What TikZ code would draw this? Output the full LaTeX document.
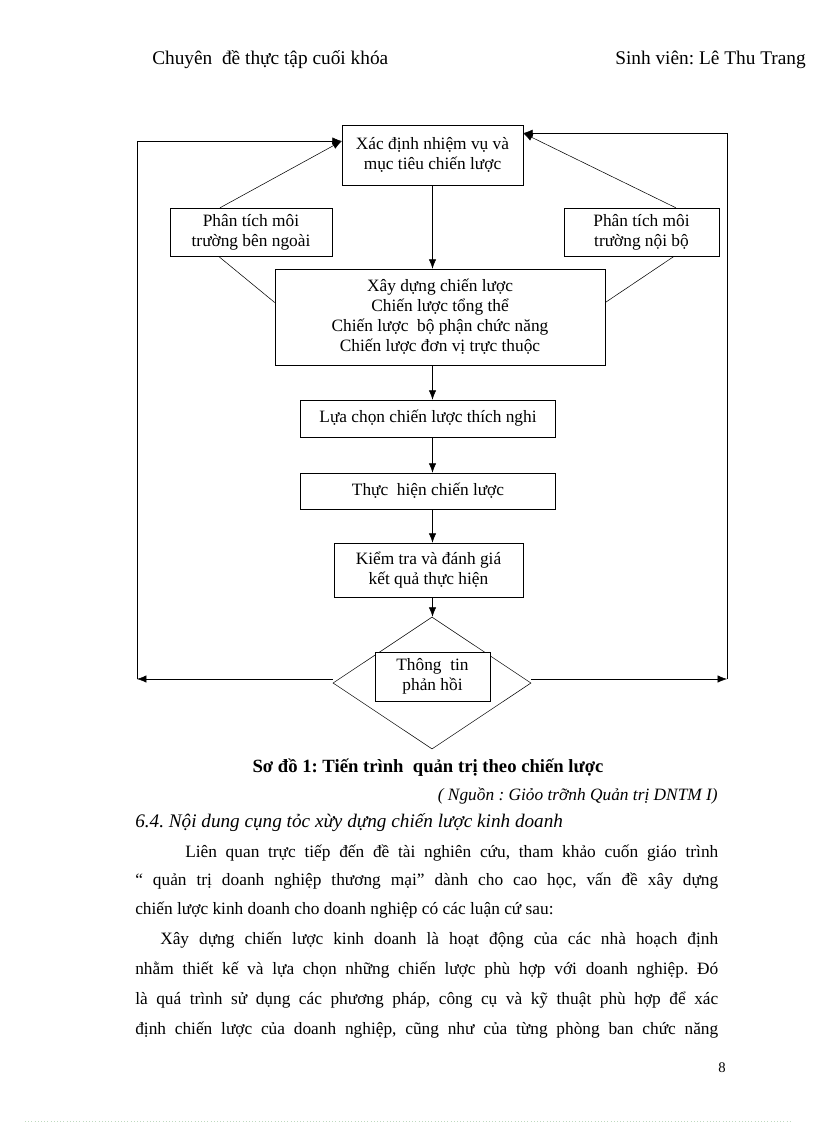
\documentclass[tikz,border=0pt]{standalone}
\usepackage{fontspec}
\setmainfont{Liberation Serif}
\usetikzlibrary{shapes.geometric,calc,arrows.meta}

\def\bodywidth{437.25pt}
\frenchspacing

\begin{document}
\begin{tikzpicture}[x=0.75pt, y=-0.75pt, ->, >={Latex[length=7pt,width=5.5pt]}, draw=black, font=\fontsize{13}{15}\selectfont]
    \tikzstyle{stage}=[rectangle, draw, -, align=center, inner sep=0pt]
    \tikzstyle{body}=[inner sep=0pt, anchor=west, font=\fontsize{13}{15}\selectfont]

    \useasboundingbox (0,0) rectangle (816,1123);

    % Page header
    \node[body, font=\fontsize{14.5}{16}\selectfont] (head-l) at (152,60) {Chuyên\ \ đề thực tập cuối khóa};
    \node[body, anchor=east, font=\fontsize{14.5}{16}\selectfont] (head-r) at (806,60) {Sinh viên:\ Lê Thu Trang};

    % Draw the stages of the process
    \node[stage, minimum width=135.75pt, minimum height=45pt] (goal) at (432.5,155) {Xác định nhiệm vụ và\\mục tiêu chiến lược};
    \node[stage, minimum width=121.5pt, minimum height=36pt] (ext) at (251,232) {Phân tích môi\\trường bên ngoài};
    \node[stage, minimum width=116.25pt, minimum height=36pt] (int) at (641.5,232) {Phân tích môi\\trường nội bộ};
    \node[stage, minimum width=247.5pt, minimum height=72pt] (build) at (440,317) {Xây dựng chiến lược\\Chiến lược tổng thể\\Chiến lược\ \ bộ phận chức năng\\Chiến lược đơn vị trực thuộc};
    \node[stage, minimum width=191.25pt, minimum height=27.75pt] (choose) at (428,418.5) {Lựa chọn chiến lược thích nghi};
    \node[stage, minimum width=191.25pt, minimum height=27pt] (exec) at (428,491) {Thực\ \ hiện chiến lược};
    \node[stage, minimum width=141.75pt, minimum height=40.5pt] (check) at (428.5,570) {Kiểm tra và đánh giá\\kết quả thực hiện};

    % Feedback decision
    \node[diamond, draw, -, minimum width=148.5pt, minimum height=99pt, inner sep=0pt] (dia) at (432,683) {};
    \node[stage, fill=white, minimum width=86.25pt, minimum height=36.75pt] (fb) at (432.5,676.5) {Thông\ \ tin\\phản hồi};

    % Connect the main chain
    \draw (goal.south) -- (goal.south |- build.north);
    \foreach \source/\dest in {build/choose, choose/exec, exec/check, check/dia}
        \draw (goal.south |- \source.south) -- (goal.south |- \dest.north);

    % Analysis boxes feed the goal and the strategy box
    \coordinate (goal-w) at ($(goal.north west)!0.27!(goal.south west)$);
    \coordinate (goal-e) at ($(goal.north east)!0.14!(goal.south east)$);
    \draw ($(ext.north west)!0.31!(ext.north east)$) -- (goal-w);
    \draw ($(int.north west)!0.72!(int.north east)$) -- (goal-e);
    \draw[-] ($(ext.south west)!0.3!(ext.south east)$) -- ($(build.north west)!0.35!(build.south west)$);
    \draw[-] ($(int.south west)!0.71!(int.south east)$) -- ($(build.north east)!0.35!(build.south east)$);

    % Feedback loops back to the goal
    \coordinate (loop-l) at (137,679);
    \coordinate (loop-r) at (727,679);
    \draw (dia.west |- loop-l) -- (loop-l);
    \draw (loop-l) |- (goal-w);
    \draw (dia.east |- loop-r) -- (loop-r);
    \draw (loop-r) |- (goal-e);

    % Caption and source
    \node[inner sep=0pt, font=\fontsize{14}{16}\selectfont\bfseries] (caption) at (428,768) {Sơ đồ 1: Tiến trình\ \ quản trị theo chiến lược};
    \node[body, anchor=east, font=\fontsize{13}{15}\selectfont\itshape] (source) at (718,796) {( Nguồn : Giỏo trỡnh Quản trị DNTM I)};
    \node[body, font=\fontsize{14.4}{16}\selectfont\itshape] (section) at (135,823) {6.4. Nội dung cụng tỏc xừy dựng chiến lược kinh doanh};

    % Body text, one node per line
    \node[body] (line-1) at (185,853) {\makebox[399.75pt][s]{Liên quan trực tiếp đến đề tài nghiên cứu, tham khảo cuốn giáo trình}};
    \node[body] (line-2) at (135,881) {\makebox[\bodywidth][s]{“ quản trị doanh nghiệp thương mại”\ dành cho cao học, vấn đề xây dựng}};
    \node[body] (line-3) at (135,910) {chiến lược kinh doanh cho doanh nghiệp có các luận cứ sau:};
    \node[body] (line-4) at (160,940) {\makebox[418.5pt][s]{Xây dựng chiến lược kinh doanh là hoạt động của các nhà hoạch định}};
    \node[body] (line-5) at (135,970) {\makebox[\bodywidth][s]{nhằm thiết kế và lựa chọn những chiến lược phù hợp với doanh nghiệp. Đó}};
    \node[body] (line-6) at (135,1000) {\makebox[\bodywidth][s]{là quá trình sử dụng các phương pháp, công cụ và kỹ thuật phù hợp để xác}};
    \node[body] (line-7) at (135,1030) {\makebox[\bodywidth][s]{định chiến lược của doanh nghiệp, cũng như của từng phòng ban chức năng}};

    % Page number and page edge
    \node[inner sep=0pt, font=\fontsize{11}{13}\selectfont] (page) at (722,1068) {8};
    \draw[-, dotted, draw=green!25!gray!40] (25,1121) -- (792,1121);
\end{tikzpicture}
\end{document}
